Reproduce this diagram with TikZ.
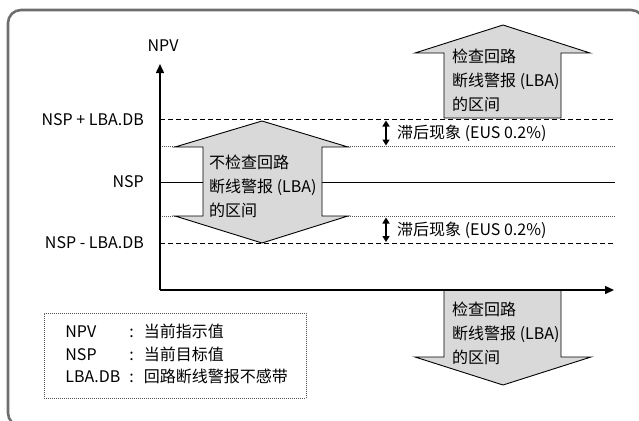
\documentclass[tikz,border=0pt]{standalone}
\usepackage{fontspec}
\setmainfont{Noto Sans CJK SC}
\usepackage{tikz}
\usetikzlibrary{arrows.meta, positioning}
\definecolor{zonegray}{HTML}{D9D9D9}
\definecolor{framegray}{HTML}{6E6E6E}
\definecolor{dotgray}{HTML}{555555}

\begin{document}
\begin{tikzpicture}[
      x=1pt, y=-1pt,
      font=\fontsize{16}{24}\selectfont,
      lbl/.style={inner sep=0pt},
      zone/.style={fill=zonegray, draw=black, line width=0.9pt, line join=miter},
      zonetxt/.style={inner sep=0pt, anchor=west, align=left},
      axis/.style={-{Triangle[length=9pt,width=8pt]}, line width=1.4pt},
      dbline/.style={line width=0.9pt, dash pattern=on 5pt off 3pt},
      hysline/.style={line width=0.8pt, dotgray, dash pattern=on 1pt off 1pt},
      spline/.style={line width=1pt},
      hys/.style={{Triangle[length=6pt,width=7pt]}-{Triangle[length=6pt,width=7pt]}, line width=2.2pt},
      legendbox/.style={draw=dotgray, line width=0.8pt, dash pattern=on 1pt off 1pt,
                        inner xsep=21pt, inner ysep=0pt, text width=220pt,
                        minimum height=85pt, align=left,
                        font=\fontsize{16}{22.5}\selectfont},
    ]
    \useasboundingbox (0,0) rectangle (639,420);

    % ---------------- outer frame (runs off the page on the right and bottom)
    \begin{scope}
      \clip (0,0) rectangle (639,420);
      \draw[framegray, line width=2.6pt, rounded corners=13pt] (8,10) rectangle (644,426);
    \end{scope}

    % ---------------- levels
    \coordinate (o)    at (160,290);
    \coordinate (ytip) at (160,64);
    \coordinate (xtip) at (614,290);
    \foreach \nm/\yy in {up/119.5, hup/146.5, sp/182, hlo/216.5, lo/243}{
      \coordinate (\nm L) at (160,\yy);
      \coordinate (\nm R) at (615,\yy);
    }
    \draw[dbline]   (upL)  -- (upR);
    \draw[hysline]  (hupL) -- (hupR);
    \draw[spline]   (spL)  -- (spR);
    \draw[hysline]  (hloL) -- (hloR);
    \draw[dbline]   (loL)  -- (loR);

    \node[lbl, left=16pt of upL] (lblup) {NSP + LBA.DB};
    \node[lbl, left=16pt of spL] (lblsp) {NSP};
    \node[lbl, left=16pt of loL] (lbllo) {NSP - LBA.DB};

    % ---------------- hysteresis
    \coordinate (hysA1) at (386,120.5);
    \coordinate (hysA2) at (386,145.5);
    \coordinate (hysB1) at (386,217.5);
    \coordinate (hysB2) at (386,242);
    \draw[hys] (hysA1) -- (hysA2);
    \draw[hys] (hysB1) -- (hysB2);
    \node[zonetxt] (hystxtA) at (397,133) {滞后现象 (EUS 0.2\%)};
    \node[zonetxt] (hystxtB) at (397,230) {滞后现象 (EUS 0.2\%)};

    % ---------------- zones
    \draw[zone] (444,118) -- (444,53) -- (415,53) -- (503,25) -- (590,53)
      -- (561,53) -- (561,118) -- cycle;
    \node[zonetxt] (uptxt) at (452,80) {检查回路\\断线警报 (LBA)\\的区间};

    \draw[zone] (262,121) -- (348,147) -- (322,147) -- (322,216) -- (348,216)
      -- (262,243) -- (175,216) -- (203,216) -- (203,147) -- (175,147) -- cycle;
    \node[zonetxt] (midtxt) at (209,186) {不检查回路\\断线警报 (LBA)\\的区间};

    \draw[zone] (444,290) -- (444,357) -- (415,357) -- (503,385) -- (591,357)
      -- (561,357) -- (561,290) -- cycle;
    \node[zonetxt] (lotxt) at (452,333) {检查回路\\断线警报 (LBA)\\的区间};

    % ---------------- axes
    \draw[axis] (o) -- (ytip);
    \draw[axis] (o) -- (xtip);
    \node[lbl] (npv) at (163,46) {NPV};

    % ---------------- legend
    \node[legendbox, anchor=north west] (legend) at (44,313) {%
      \begin{tabular}{@{}p{64pt}@{}l@{}}
        NPV    & :\hspace{10pt}当前指示值\\
        NSP    & :\hspace{10pt}当前目标值\\
        LBA.DB & :\hspace{10pt}回路断线警报不感带
      \end{tabular}};
  \end{tikzpicture}
\end{document}
